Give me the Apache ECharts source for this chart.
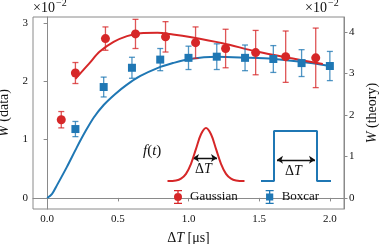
<!DOCTYPE html>
<html>
<head>
<meta charset="utf-8">
<script src="https://cdn.jsdelivr.net/npm/echarts@6/dist/echarts.min.js"></script>
<style>html,body{margin:0;padding:0;background:#fff}#c{width:381px;height:244px}</style>
</head>
<body>
<div id="c"></div>
<script>
// Measured data (W data, units of 1e-2)
const xGauss = [0.1, 0.2, 0.4125, 0.625, 0.8375, 1.05, 1.2625, 1.475, 1.6875, 1.9];
const yGauss = [1.34, 2.14, 2.73, 2.81, 2.76, 2.66, 2.56, 2.49, 2.42, 2.40];
const eGauss = [0.14, 0.18, 0.20, 0.25, 0.26, 0.27, 0.33, 0.38, 0.44, 0.51];
const xBox = [0.2, 0.4, 0.6, 0.8, 1.0, 1.2, 1.4, 1.6, 1.8, 2.0];
const yBox = [1.18, 1.90, 2.23, 2.37, 2.40, 2.42, 2.40, 2.38, 2.31, 2.26];
const eBox = [0.13, 0.17, 0.18, 0.19, 0.20, 0.22, 0.22, 0.23, 0.23, 0.25];
// Theory curves (W theory, units of 1e-2)
const xThGauss = [0.2, 0.3, 0.37, 0.47, 0.565, 0.66, 0.78, 0.89, 1.01, 1.24, 1.48, 1.72, 1.95];
const yThGauss = [2.87, 3.25, 3.52, 3.76, 3.90, 3.97, 3.98, 3.94, 3.88, 3.73, 3.53, 3.37, 3.23];
const xThBox = [0, 0.035, 0.07, 0.14, 0.21, 0.27, 0.33, 0.40, 0.48, 0.56, 0.66, 0.78, 0.89, 1.01, 1.20, 1.40, 1.60, 1.80, 2.00];
const yThBox = [0, 0.10, 0.31, 0.75, 1.22, 1.60, 1.94, 2.24, 2.50, 2.72, 2.94, 3.13, 3.25, 3.35, 3.40, 3.38, 3.35, 3.28, 3.18];
// Ticks
const xTicks = [0, 0.5, 1.0, 1.5, 2.0];
const yLeftTicks = [0, 1, 2, 3];
const yRightTicks = [0, 1, 2, 3, 4];
// Inset pulse shapes (arbitrary units)
const pulseGaussT = [2.75, 3.6, 4.1, 4.6, 5.1, 5.6, 6.1, 6.6, 7.1, 7.6, 8.1, 8.6, 9.1, 9.6, 10.45];
const pulseGaussF = [0, 0.011, 0.044, 0.135, 0.325, 0.607, 0.882, 1, 0.882, 0.607, 0.325, 0.135, 0.044, 0.011, 0];
const pulseBoxT = [12.1, 13.4, 13.4, 17.7, 17.7, 19.1];
const pulseBoxF = [0, 0, 0.943, 0.943, 0, 0];

const RED = '#d62728', BLUE = '#1f77b4';
const RED_E = 'rgba(214,39,40,0.78)', BLUE_E = 'rgba(31,119,180,0.78)';
const SERIF = '"Liberation Serif", "DejaVu Serif", serif';
const AX = '#8a8a8a';

const zip = (a, b, c) => a.map((v, i) => c ? [v, b[i], c[i]] : [v, b[i]]);

function errRender(color) {
  return function (params, api) {
    const x = api.value(0), y = api.value(1), e = api.value(2);
    const t = api.coord([x, y + e]), b = api.coord([x, y - e]);
    const cap = 3;
    const st = { stroke: color, lineWidth: 1.3 };
    return { type: 'group', children: [
      { type: 'line', shape: { x1: t[0], y1: t[1], x2: b[0], y2: b[1] }, style: st },
      { type: 'line', shape: { x1: t[0] - cap, y1: t[1], x2: t[0] + cap, y2: t[1] }, style: st },
      { type: 'line', shape: { x1: b[0] - cap, y1: b[1], x2: b[0] + cap, y2: b[1] }, style: st }
    ]};
  };
}

const iconG = 'path://M2,0H10V1.3H2Z M5.35,0H6.65V14H5.35Z M2,12.7H10V14H2Z M6,3A4,4 0 1 1 5.99,3Z';
const iconB = 'path://M2,0H10V1.3H2Z M5.35,0H6.65V14H5.35Z M2,12.7H10V14H2Z M2.4,3.4H9.6V10.6H2.4Z';

const chart = echarts.init(document.getElementById('c'), null, { renderer: 'canvas' });
chart.setOption({
  animation: false,
  backgroundColor: '#fff',
  textStyle: { fontFamily: SERIF },
  grid: [
    { left: 33, right: 37, top: 17, bottom: 35, show: true, borderColor: AX, borderWidth: 1,
      containLabel: false, outerBoundsMode: 'none' },
    { left: 140, top: 120, width: 200, height: 70, containLabel: false, outerBoundsMode: 'none' }
  ],
  legend: {
    left: 169, top: 185, itemWidth: 14, itemHeight: 14, itemGap: 28,
    textStyle: { fontFamily: SERIF, fontSize: 13, color: '#111' },
    data: [{ name: 'Gaussian', icon: iconG }, { name: 'Boxcar', icon: iconB }]
  },
  xAxis: [
    {
      type: 'value', min: -0.1, max: 2.1, gridIndex: 0,
      name: '{d|Δ}{i|T}{d| [μs]}', nameLocation: 'middle', nameGap: 22,
      nameTextStyle: { rich: {
        d: { fontFamily: SERIF, fontSize: 14, color: '#111' },
        i: { fontFamily: SERIF, fontSize: 14, fontStyle: 'italic', color: '#111' }
      } },
      axisLine: { lineStyle: { color: AX } },
      axisTick: { show: true, length: 3.5, customValues: xTicks, lineStyle: { color: AX } },
      axisLabel: { customValues: xTicks, formatter: v => v.toFixed(1), fontFamily: SERIF, fontSize: 11, color: '#111', margin: 5 },
      splitLine: { show: false }
    },
    { type: 'value', gridIndex: 1, min: 0, max: 20, show: false }
  ],
  yAxis: [
    {
      type: 'value', min: -0.19, max: 3.10, gridIndex: 0, position: 'left',
      name: '{i|W}{d| (data)}', nameLocation: 'middle', nameGap: 17, nameRotate: 90,
      nameTextStyle: { rich: {
        d: { fontFamily: SERIF, fontSize: 14, color: '#111' },
        i: { fontFamily: SERIF, fontSize: 14, fontStyle: 'italic', color: '#111' }
      } },
      axisLine: { show: true, lineStyle: { color: AX } },
      axisTick: { show: true, length: 3.5, customValues: yLeftTicks, lineStyle: { color: AX } },
      axisLabel: { customValues: yLeftTicks, fontFamily: SERIF, fontSize: 11, color: '#111', margin: 5 },
      splitLine: { show: false }
    },
    {
      type: 'value', min: -0.265, max: 4.36, gridIndex: 0, position: 'right',
      name: '{i|W}{d| (theory)}', nameLocation: 'middle', nameGap: 20, nameRotate: 90,
      nameTextStyle: { rich: {
        d: { fontFamily: SERIF, fontSize: 14, color: '#111' },
        i: { fontFamily: SERIF, fontSize: 14, fontStyle: 'italic', color: '#111' }
      } },
      axisLine: { show: true, lineStyle: { color: AX } },
      axisTick: { show: true, length: 3.5, customValues: yRightTicks, lineStyle: { color: AX } },
      axisLabel: { customValues: yRightTicks, fontFamily: SERIF, fontSize: 11, color: '#111', margin: 5 },
      splitLine: { show: false }
    },
    { type: 'value', gridIndex: 1, min: -0.1698, max: 1.151, show: false }
  ],
  series: [
    { name: 'theoryBox', type: 'line', xAxisIndex: 0, yAxisIndex: 1, data: zip(xThBox, yThBox),
      smooth: 0.3, showSymbol: false, lineStyle: { color: BLUE, width: 2 }, z: 2 },
    { name: 'theoryGauss', type: 'line', xAxisIndex: 0, yAxisIndex: 1, data: zip(xThGauss, yThGauss),
      smooth: 0.3, showSymbol: false, lineStyle: { color: RED, width: 2 }, z: 2 },
    { name: 'errBox', type: 'custom', xAxisIndex: 0, yAxisIndex: 0, renderItem: errRender(BLUE_E),
      data: zip(xBox, yBox, eBox), encode: { x: 0, y: 1 }, z: 3 },
    { name: 'errGauss', type: 'custom', xAxisIndex: 0, yAxisIndex: 0, renderItem: errRender(RED_E),
      data: zip(xGauss, yGauss, eGauss), encode: { x: 0, y: 1 }, z: 3 },
    { name: 'Boxcar', type: 'scatter', xAxisIndex: 0, yAxisIndex: 0, data: zip(xBox, yBox),
      symbol: 'rect', symbolSize: 8, itemStyle: { color: BLUE, opacity: 1 }, z: 4 },
    { name: 'Gaussian', type: 'scatter', xAxisIndex: 0, yAxisIndex: 0, data: zip(xGauss, yGauss),
      symbol: 'circle', symbolSize: 9, itemStyle: { color: RED, opacity: 1 }, z: 4 },
    // inset
    { name: 'pulseG', type: 'line', xAxisIndex: 1, yAxisIndex: 2, data: zip(pulseGaussT, pulseGaussF),
      smooth: 0.35, showSymbol: false, lineStyle: { color: RED, width: 2 } },
    { name: 'pulseB', type: 'line', xAxisIndex: 1, yAxisIndex: 2, data: zip(pulseBoxT, pulseBoxF),
      showSymbol: false, lineStyle: { color: BLUE, width: 2 } },
    { name: 'arrows', type: 'lines', coordinateSystem: 'cartesian2d', xAxisIndex: 1, yAxisIndex: 2,
      symbol: ['arrow', 'arrow'], symbolSize: 6,
      lineStyle: { color: '#111', width: 1.3, opacity: 1 },
      data: [ { coords: [[5.3, 0.434], [7.7, 0.434]] }, { coords: [[13.7, 0.40], [17.5, 0.40]] } ] }
  ],
  graphic: [
    { type: 'text', left: 33, top: 1, style: { text: '×10', font: '14px ' + SERIF, fill: '#111' } },
    { type: 'text', left: 56, top: -2, style: { text: '−2', font: '10px ' + SERIF, fill: '#111' } },
    { type: 'text', left: 305, top: 1, style: { text: '×10', font: '14px ' + SERIF, fill: '#111' } },
    { type: 'text', left: 328, top: -2, style: { text: '−2', font: '10px ' + SERIF, fill: '#111' } },
    { type: 'text', left: 143, top: 144, style: { text: '{i|f}{d|(}{i|t}{d|)}', rich: {
        d: { fontFamily: SERIF, fontSize: 15, fill: '#111' },
        i: { fontFamily: SERIF, fontSize: 15, fontStyle: 'italic', fill: '#111' } } } },
    { type: 'text', left: 195, top: 162, style: { text: '{d|Δ}{i|T}', rich: {
        d: { fontFamily: SERIF, fontSize: 14, fill: '#111' },
        i: { fontFamily: SERIF, fontSize: 14, fontStyle: 'italic', fill: '#111' } } } },
    { type: 'text', left: 285, top: 164, style: { text: '{d|Δ}{i|T}', rich: {
        d: { fontFamily: SERIF, fontSize: 14, fill: '#111' },
        i: { fontFamily: SERIF, fontSize: 14, fontStyle: 'italic', fill: '#111' } } } }
  ]
});
</script>
</body>
</html>
